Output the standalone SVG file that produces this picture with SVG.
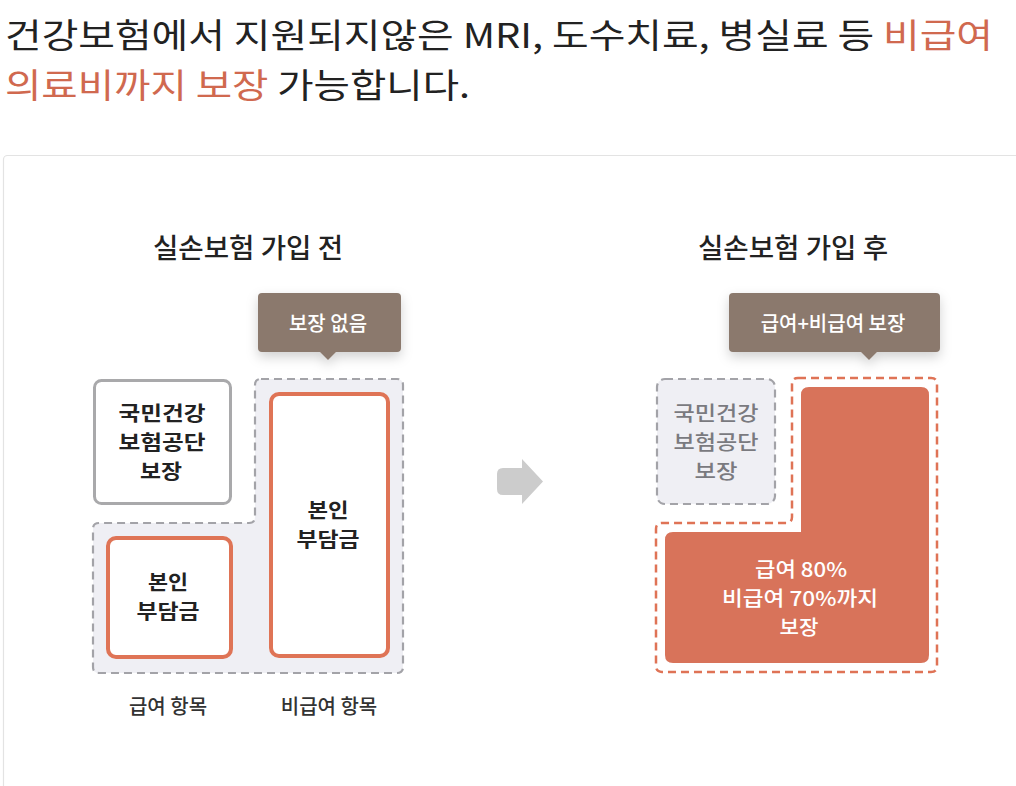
<svg xmlns="http://www.w3.org/2000/svg" width="1016" height="786" viewBox="0 0 1016 786">
<style>
text{font-family:"Noto Sans CJK KR","Noto Sans",sans-serif;}
.hd{font-size:34px;fill:#222;}
.acc{fill:#d0694f;}
.ttl{font-size:27px;fill:#222;text-anchor:middle;font-weight:500;}
.tip{font-size:20px;fill:#fff;text-anchor:middle;font-weight:500;}
.bx{font-size:20px;fill:#222;text-anchor:middle;font-weight:700;}
.gx{font-size:20px;fill:#7a7a7f;text-anchor:middle;font-weight:500;}
.wx{font-size:20px;fill:#fff;text-anchor:middle;font-weight:500;}
.lb{font-size:20px;fill:#333;text-anchor:middle;font-weight:500;}
.tipbg{fill:#8b796d;}
.dashg{fill:#efeff4;stroke:#a3a3a8;stroke-width:2.2;stroke-dasharray:8 5;}
.dasho{fill:#fff;stroke:#df7356;stroke-width:2.5;stroke-dasharray:8 5;}
.ob{fill:#fff;stroke:#df7456;stroke-width:4;}
</style>
<defs>
<filter id="sh" x="-20%" y="-30%" width="140%" height="180%">
<feDropShadow dx="0" dy="5" stdDeviation="6" flood-color="#000" flood-opacity="0.18"/>
</filter>
</defs>
<rect width="1016" height="786" fill="#fff"/>
<g id="header">
<text class="hd" x="5" y="48" textLength="988" lengthAdjust="spacingAndGlyphs">건강보험에서 지원되지않은 MRI, 도수치료, 병실료 등 <tspan class="acc">비급여</tspan></text>
<text class="hd" x="5" y="98" textLength="465" lengthAdjust="spacingAndGlyphs"><tspan class="acc">의료비까지 보장</tspan> 가능합니다.</text>
</g>
<rect id="card" x="3.5" y="155.5" width="1030" height="650" rx="4" fill="#fff" stroke="#e3e3e3" stroke-width="1.2"/>
<text class="ttl" x="248" y="258" textLength="190" lengthAdjust="spacingAndGlyphs">실손보험 가입 전</text>
<text class="ttl" x="793" y="258" textLength="190" lengthAdjust="spacingAndGlyphs">실손보험 가입 후</text>

<g id="before-area">
<path class="dashg" d="M261,379 H397 Q403,379 403,385 V667 Q403,673 397,673 H99 Q93,673 93,667 V529 Q93,523 99,523 H249 Q255,523 255,517 V385 Q255,379 261,379 Z"/>
</g>
<g id="tip-before">
<g filter="url(#sh)">
<rect class="tipbg" x="258" y="293" width="143" height="59" rx="4"/>
<path class="tipbg" d="M319,351 H337 L328,360 Z"/>
</g>
<text class="tip" x="328" y="331">보장 없음</text>
</g>
<g id="nhis-before">
<rect x="94.5" y="380.5" width="136" height="123" rx="7" fill="#fff" stroke="#a9a9ab" stroke-width="3"/>
<text class="bx" x="162" y="421" textLength="87" lengthAdjust="spacingAndGlyphs">국민건강</text>
<text class="bx" x="162" y="450" textLength="87" lengthAdjust="spacingAndGlyphs">보험공단</text>
<text class="bx" x="161" y="479" textLength="42" lengthAdjust="spacingAndGlyphs">보장</text>
</g>
<g id="self-covered">
<rect class="ob" x="108" y="538" width="123" height="119" rx="8"/>
<text class="bx" x="168" y="590" textLength="40" lengthAdjust="spacingAndGlyphs">본인</text>
<text class="bx" x="168" y="619" textLength="63" lengthAdjust="spacingAndGlyphs">부담금</text>
</g>
<g id="self-noncovered">
<rect class="ob" x="271" y="394" width="117" height="262" rx="8"/>
<text class="bx" x="328" y="518" textLength="41" lengthAdjust="spacingAndGlyphs">본인</text>
<text class="bx" x="328" y="547" textLength="63" lengthAdjust="spacingAndGlyphs">부담금</text>
</g>
<text class="lb" x="168" y="714">급여 항목</text>
<text class="lb" x="329" y="714">비급여 항목</text>

<g id="connectors">
<path d="M503,468 H522 V459 L543,481.5 L522,504 V495 H503 Q497,495 497,489 V474 Q497,468 503,468 Z" fill="#cccccc"/>
</g>

<g id="after-area">
<path class="dasho" d="M798,378 H931 Q937,378 937,384 V666 Q937,672 931,672 H662 Q656,672 656,666 V529 Q656,523 662,523 H786 Q792,523 792,517 V384 Q792,378 798,378 Z"/>
<path d="M809,387 H921 Q929,387 929,395 V655 Q929,663 921,663 H673 Q665,663 665,655 V540 Q665,532 673,532 H801 V395 Q801,387 809,387 Z" fill="#d8735a"/>
<text class="wx" x="801" y="577" textLength="92" lengthAdjust="spacingAndGlyphs">급여 80%</text>
<text class="wx" x="800" y="606" textLength="156" lengthAdjust="spacingAndGlyphs">비급여 70%까지</text>
<text class="wx" x="799" y="635" textLength="39" lengthAdjust="spacingAndGlyphs">보장</text>
</g>
<g id="tip-after">
<g filter="url(#sh)">
<rect class="tipbg" x="729" y="293" width="211" height="59" rx="4"/>
<path class="tipbg" d="M860,351 H878 L869,360 Z"/>
</g>
<text class="tip" x="833" y="331">급여+비급여 보장</text>
</g>
<g id="nhis-after">
<rect class="dashg" x="657" y="379" width="118" height="125" rx="8"/>
<text class="gx" x="716" y="421" textLength="85" lengthAdjust="spacingAndGlyphs">국민건강</text>
<text class="gx" x="716" y="450" textLength="85" lengthAdjust="spacingAndGlyphs">보험공단</text>
<text class="gx" x="716" y="479" textLength="43" lengthAdjust="spacingAndGlyphs">보장</text>
</g>
</svg>
